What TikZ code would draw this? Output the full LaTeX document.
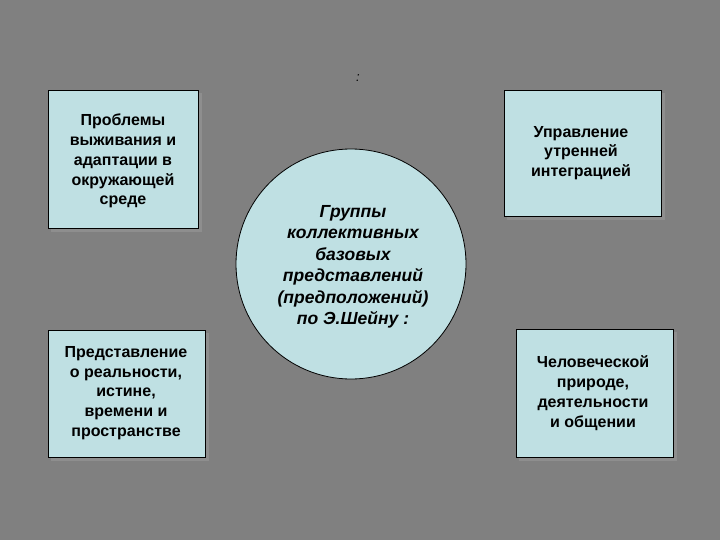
\documentclass[tikz,border=0pt]{standalone}
\usepackage{fontspec}
\setmainfont{Liberation Sans}
\definecolor{bg}{HTML}{808080}
\definecolor{boxfill}{HTML}{BFE0E3}
\definecolor{shadowc}{HTML}{8E8E8E}
\begin{document}
\begin{tikzpicture}[x=1pt,y=-1pt,
  boxtext/.style={font=\fontsize{16}{19.8}\selectfont\bfseries, align=center, text=black},
  circtext/.style={font=\fontsize{17.5}{21.5}\selectfont\bfseries\itshape, align=center, text=black},
  shapebox/.style={draw=black, line width=0.8pt, fill=boxfill}]
\fill[bg] (0,0) rectangle (720,540);
\useasboundingbox (0,0) rectangle (720,540);
% shadows
\fill[shadowc] (51,93) rectangle (202,232);
\fill[shadowc] (507,93) rectangle (665,220);
\fill[shadowc] (51,333) rectangle (209,461);
\fill[shadowc] (519,332) rectangle (677,461);
% boxes
\draw[shapebox] (48,90) rectangle (198,228);
\draw[shapebox] (504,90) rectangle (661,216);
\draw[shapebox] (48,330) rectangle (205,457);
\draw[shapebox] (516,329) rectangle (673,457);
\draw[shapebox] (351,264) circle (115);
% texts
\node[boxtext] (tl) at (123,161) {Проблемы\\выживания и\\адаптации в\\окружающей\\среде};
\node[boxtext] (tr) at (581,153) {Управление\\утренней\\интеграцией};
\node[boxtext] (bl) at (126,393) {Представление\\о реальности,\\истине,\\времени и\\пространстве};
\node[boxtext] (br) at (593,393) {Человеческой\\природе,\\деятельности\\и общении};
\node[circtext] (c) at (353,267) {Группы\\коллективных\\базовых\\представлений\\(предположений)\\по Э.Шейну :};
\node[font=\fontsize{13}{15}\selectfont\itshape, text=black] (colon) at (358,78) {:};
\end{tikzpicture}
\end{document}
